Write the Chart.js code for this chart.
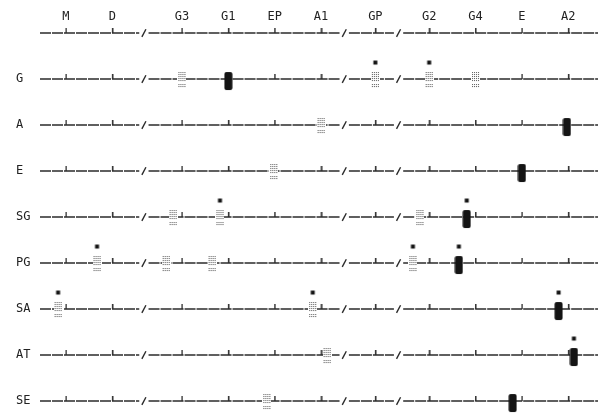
<!DOCTYPE html>
<html>
<head>
<meta charset="utf-8">
<script src="https://cdn.jsdelivr.net/npm/chart.js@4.4.1/dist/chart.umd.min.js"></script>
<style>
  html, body { margin: 0; padding: 0; background: #fff; }
  #wrap { width: 598px; height: 413px; }
</style>
</head>
<body>
<div id="wrap"><canvas id="chart"></canvas></div>
<script>
// column positions along the axis (units), with gaps at the breaks
const columns = ['M', 'D', 'G3', 'G1', 'EP', 'A1', 'GP', 'G2', 'G4', 'E', 'A2'];
const columnPos = [0, 1, 2.5, 3.5, 4.5, 5.5, 6.67, 7.83, 8.83, 9.83, 10.83];
const breaks = [1.68, 6.0, 7.17];
const rows = ['', 'G', 'A', 'E', 'SG', 'PG', 'SA', 'AT', 'SE'];

// markers: [row, x]
const solidMarks = [
  ['G', 3.5], ['A', 10.8], ['E', 9.83], ['SE', 9.63]
];
const solidFlagMarks = [
  ['SG', 8.64], ['PG', 8.47], ['SA', 10.62], ['AT', 10.95]
];
const dottedMarks = [
  ['G', 2.5], ['G', 8.83], ['A', 5.5], ['E', 4.48], ['SG', 2.31], ['SG', 7.63],
  ['PG', 2.16], ['PG', 3.15], ['AT', 5.63], ['SE', 4.33]
];
const dottedFlagMarks = [
  ['G', 6.67], ['G', 7.83], ['SG', 3.32], ['PG', 0.67], ['PG', 7.48],
  ['SA', -0.17], ['SA', 5.32]
];

const X_MIN = -0.56, X_MAX = 11.47;
const GAP = 0.1;
const INK = '#2b2b2b';

// --- point style canvases ---
function makeCanvas(w, h, draw) {
  const c = document.createElement('canvas');
  c.width = w; c.height = h;
  draw(c.getContext('2d'));
  return c;
}
const tickStyle = makeCanvas(3, 10, g => {
  g.fillStyle = INK;
  g.fillRect(1, 0, 1.5, 5);
});
function drawSolid(g, top) {
  g.fillStyle = '#141414';
  g.beginPath();
  g.roundRect(0.5, top, 8, 18, 2);
  g.fill();
}
function drawDotted(g, top) {
  g.fillStyle = '#fff';
  g.fillRect(0, top, 9, 17);
  g.fillStyle = '#555';
  for (let r = 0; r < 8; r++) {
    if (r === 5) continue;
    for (let c = 0; c < 4; c++) {
      g.fillRect(1 + c * 2, top + 1 + r * 2, 1, 1);
    }
  }
}
function drawFlag(g) {
  g.fillStyle = '#141414';
  g.fillRect(2.5, 1.5, 4, 4);
}
// all marker canvases are 40px tall so that the line sits at their middle
const solidStyle = makeCanvas(9, 40, g => drawSolid(g, 13));
const solidFlagStyle = makeCanvas(9, 40, g => { drawSolid(g, 13); drawFlag(g); });
const dottedStyle = makeCanvas(9, 40, g => drawDotted(g, 12));
const dottedFlagStyle = makeCanvas(9, 40, g => { drawDotted(g, 12); drawFlag(g); });

// --- datasets ---
const datasets = [];
rows.forEach((name, ri) => {
  const pts = [{ x: X_MIN, y: ri }];
  breaks.forEach(b => {
    pts.push({ x: b - GAP, y: ri }, { x: b, y: null }, { x: b + GAP, y: ri });
  });
  pts.push({ x: X_MAX, y: ri });
  datasets.push({
    type: 'line', data: pts, borderColor: INK, borderWidth: 1.5,
    borderDash: [11, 1], pointRadius: 0, spanGaps: false, order: 3
  });
});
datasets.push({
  data: rows.flatMap((n, ri) => columnPos.map(x => ({ x, y: ri }))),
  pointStyle: tickStyle, order: 2
});
datasets.push({
  data: rows.flatMap((n, ri) => breaks.map(x => ({ x, y: ri }))),
  pointStyle: 'line', rotation: -62, radius: 4.3, borderColor: INK,
  borderWidth: 1.4, order: 2
});
const markSets = [
  [solidMarks, solidStyle], [solidFlagMarks, solidFlagStyle],
  [dottedMarks, dottedStyle], [dottedFlagMarks, dottedFlagStyle]
];
markSets.forEach(([marks, style]) => {
  datasets.push({
    data: marks.map(([r, x]) => ({ x, y: rows.indexOf(r) })),
    pointStyle: style, order: 1
  });
});

const FONT = { family: 'DejaVu Sans Mono', size: 12 };

new Chart(document.getElementById('chart'), {
  type: 'scatter',
  data: { datasets },
  options: {
    responsive: true,
    maintainAspectRatio: false,
    animation: false,
    events: [],
    clip: false,
    layout: { autoPadding: false, padding: { left: 16, right: 0, top: 0, bottom: 0 } },
    plugins: { legend: { display: false }, tooltip: { enabled: false } },
    scales: {
      x: {
        type: 'linear', position: 'top', min: X_MIN, max: X_MAX,
        grid: { display: false, drawTicks: false }, border: { display: false },
        afterBuildTicks: axis => { axis.ticks = columnPos.map(v => ({ value: v })); },
        afterFit: axis => { axis.height = 25; axis.paddingLeft = 0; axis.paddingRight = 0; },
        ticks: {
          autoSkip: false, maxRotation: 0, padding: 1, color: '#222', font: FONT,
          callback: (v, i) => columns[i]
        }
      },
      y: {
        type: 'linear', reverse: true, min: -0.174, max: 8.26,
        grid: { display: false, drawTicks: false }, border: { display: false },
        afterBuildTicks: axis => { axis.ticks = rows.map((r, i) => ({ value: i })); },
        afterFit: axis => { axis.width = 24; axis.paddingTop = 0; axis.paddingBottom = 0; },
        ticks: {
          autoSkip: false, crossAlign: 'far', padding: 0, color: '#222', font: FONT,
          callback: (v, i) => rows[i]
        }
      }
    }
  }
});
</script>
</body>
</html>
